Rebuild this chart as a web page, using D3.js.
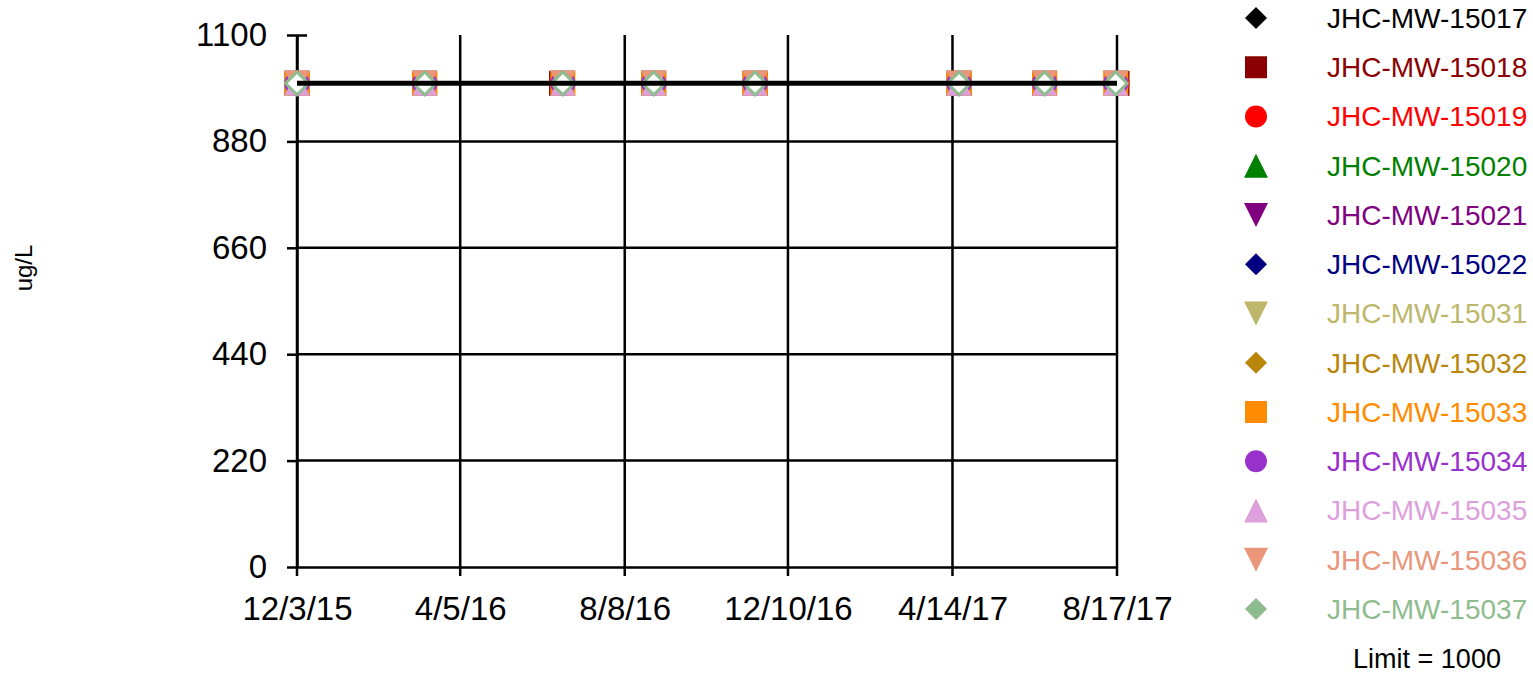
<!DOCTYPE html>
<html>
<head>
<meta charset="utf-8">
<script src="https://cdn.jsdelivr.net/npm/d3@7"></script>
<style>
  html, body { margin: 0; padding: 0; background: #fff; }
  svg { display: block; font-family: "Liberation Sans", Arial, sans-serif; }
</style>
</head>
<body>
<svg width="1533" height="673"></svg>
<script>
// wells, in legend order
const wells = ["JHC-MW-15017", "JHC-MW-15018", "JHC-MW-15019", "JHC-MW-15020", "JHC-MW-15021",
  "JHC-MW-15022", "JHC-MW-15031", "JHC-MW-15032", "JHC-MW-15033", "JHC-MW-15034",
  "JHC-MW-15035", "JHC-MW-15036", "JHC-MW-15037"];
const colors = ["#000000", "#8b0000", "#ff0000", "#008000", "#800080", "#000080", "#bdb76b",
  "#b8860b", "#ff8c00", "#9932cc", "#dda0dd", "#e9967a", "#8fbc8f"];
const shapes = ["diamond", "square", "circle", "triangle", "triangleDown", "diamond", "triangleDown",
  "diamond", "square", "circle", "triangle", "triangleDown", "diamond"];

// sample dates (most wells share them, 15018 / 15019 were a day off on some events)
const sampleDates = ["12/3/15", "3/9/16", "6/22/16", "8/30/16", "11/15/16", "4/19/17", "6/23/17", "8/16/17"];
const sampleDates18 = ["12/3/15", "3/9/16", "6/21/16", "8/30/16", "11/15/16", "4/19/17", "6/23/17", "8/17/17"];
const sampleDates19 = ["12/3/15", "3/9/16", "6/21/16", "8/30/16", "11/15/16", "4/19/17", "6/23/17", "8/17/17"];

// results in ug/L, one row per well (all reported at the 1000 limit)
const results = [
  [1000, 1000, 1000, 1000, 1000, 1000, 1000, 1000],
  [1000, 1000, 1000, 1000, 1000, 1000, 1000, 1000],
  [1000, 1000, 1000, 1000, 1000, 1000, 1000, 1000],
  [1000, 1000, 1000, 1000, 1000, 1000, 1000, 1000],
  [1000, 1000, 1000, 1000, 1000, 1000, 1000, 1000],
  [1000, 1000, 1000, 1000, 1000, 1000, 1000, 1000],
  [1000, 1000, 1000, 1000, 1000, 1000, 1000, 1000],
  [1000, 1000, 1000, 1000, 1000, 1000, 1000, 1000],
  [1000, 1000, 1000, 1000, 1000, 1000, 1000, 1000],
  [1000, 1000, 1000, 1000, 1000, 1000, 1000, 1000],
  [1000, 1000, 1000, 1000, 1000, 1000, 1000, 1000],
  [1000, 1000, 1000, 1000, 1000, 1000, 1000, 1000],
  [1000, 1000, 1000, 1000, 1000, 1000, 1000, 1000]
];

const limit = 1000;
const yTicks = [0, 220, 440, 660, 880, 1100];
const xTicks = ["12/3/15", "4/5/16", "8/8/16", "12/10/16", "4/14/17", "8/17/17"];

const parse = d3.timeParse("%m/%d/%y");

const svg = d3.select("svg");
const plotLeft = 297, plotRight = 1117, plotTop = 35, plotBottom = 567;
const fontStack = "'Liberation Sans', Arial, sans-serif";

const x = d3.scaleTime()
  .domain([parse("12/3/15"), parse("8/17/17")])
  .range([plotLeft, plotRight]);
const y = d3.scaleLinear()
  .domain([0, 1100])
  .range([plotBottom, plotTop]);

// marker shapes, size = bounding width squared
const symbolTypes = {
  diamond: { draw(c, s) { const r = Math.sqrt(s) / 2; c.moveTo(0, -r); c.lineTo(r, 0); c.lineTo(0, r); c.lineTo(-r, 0); c.closePath(); } },
  square: { draw(c, s) { const r = Math.sqrt(s) / 2; c.rect(-r, -r, 2 * r, 2 * r); } },
  circle: { draw(c, s) { const r = Math.sqrt(s) / 2; c.moveTo(r, 0); c.arc(0, 0, r, 0, 2 * Math.PI); } },
  triangle: { draw(c, s) { const r = Math.sqrt(s) / 2; c.moveTo(0, -r); c.lineTo(r, r); c.lineTo(-r, r); c.closePath(); } },
  triangleDown: { draw(c, s) { const r = Math.sqrt(s) / 2; c.moveTo(0, r); c.lineTo(r, -r); c.lineTo(-r, -r); c.closePath(); } }
};

// grid
svg.append("g")
  .selectAll("line")
  .data(yTicks.filter(d => d > 0 && d < 1100))
  .join("line")
  .attr("x1", plotLeft).attr("x2", plotRight)
  .attr("y1", d => y(d)).attr("y2", d => y(d))
  .attr("stroke", "#000").attr("stroke-width", 2.5);

svg.append("g")
  .selectAll("line")
  .data(xTicks)
  .join("line")
  .attr("x1", d => x(parse(d))).attr("x2", d => x(parse(d)))
  .attr("y1", plotTop).attr("y2", plotBottom + 9)
  .attr("stroke", "#000").attr("stroke-width", 2.5);

// axes
const yAxis = svg.append("g")
  .attr("transform", `translate(${plotLeft},0)`)
  .call(d3.axisLeft(y).tickValues(yTicks).tickFormat(d3.format("d"))
    .tickSize(10).tickPadding(20).tickSizeOuter(0));
yAxis.select(".domain").attr("stroke", "#000").attr("stroke-width", 2.5);
yAxis.selectAll(".tick line").attr("stroke-width", 2.5);
yAxis.selectAll(".tick").filter(d => d === 1100).select("line").attr("x2", 10).attr("x1", -10);
yAxis.selectAll("text").attr("font-size", 33).attr("fill", "#000").style("font-family", fontStack);

const xAxis = svg.append("g")
  .attr("transform", `translate(0,${plotBottom})`)
  .call(d3.axisBottom(x).tickValues(xTicks.map(parse)).tickFormat(d3.timeFormat("%-m/%-d/%y"))
    .tickSize(0).tickPadding(30).tickSizeOuter(0));
xAxis.select(".domain").attr("stroke", "#000").attr("stroke-width", 2.5);
xAxis.selectAll("text").attr("font-size", 33).attr("fill", "#000").style("font-family", fontStack);

// y label
svg.append("text")
  .attr("transform", "translate(32,268) rotate(-90)")
  .attr("text-anchor", "middle")
  .attr("font-size", 24)
  .text("ug/L");

// points
wells.forEach((w, i) => {
  const dates = i === 1 ? sampleDates18 : i === 2 ? sampleDates19 : sampleDates;
  const pts = results[i].map((v, j) => ({ date: parse(dates[j]), value: v }));
  const hollow = i === wells.length - 1;
  svg.append("g")
    .selectAll("path")
    .data(pts)
    .join("path")
    .attr("transform", d => `translate(${x(d.date)},${y(d.value)})`)
    .attr("d", d3.symbol().type(symbolTypes[shapes[i]]).size(hollow ? 23 * 23 : 25 * 25))
    .attr("fill", hollow ? "#fff" : colors[i])
    .attr("stroke", hollow ? colors[i] : "none")
    .attr("stroke-width", hollow ? 3 : 0);
});

// limit line
svg.append("line")
  .attr("x1", plotLeft).attr("x2", plotRight)
  .attr("y1", y(limit)).attr("y2", y(limit))
  .attr("stroke", "#000").attr("stroke-width", 5);

// legend
const legend = svg.append("g");
const rowY = d3.scalePoint().domain(d3.range(wells.length)).range([18, 609]);
wells.forEach((w, i) => {
  const g = legend.append("g").attr("transform", `translate(0,${rowY(i)})`);
  g.append("path")
    .attr("transform", "translate(1256,0)")
    .attr("d", d3.symbol().type(symbolTypes[shapes[i]]).size(shapes[i].startsWith("tri") ? 24 * 24 : 22 * 22))
    .attr("fill", colors[i]);
  g.append("text")
    .attr("x", 1327)
    .attr("dy", "0.35em")
    .attr("font-size", 28)
    .attr("fill", colors[i])
    .text(w);
});
legend.append("text")
  .attr("x", 1427).attr("y", 659).attr("dy", "0.35em")
  .attr("text-anchor", "middle")
  .attr("font-size", 27)
  .text("Limit = " + limit);
</script>
</body>
</html>
